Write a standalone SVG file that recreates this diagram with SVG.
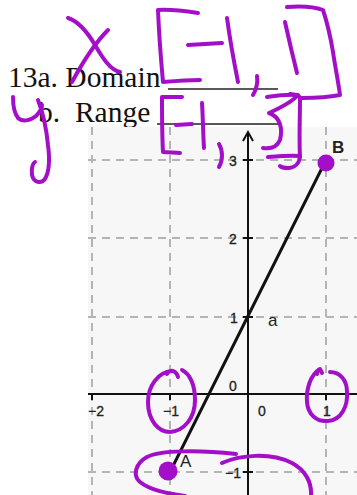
<svg xmlns="http://www.w3.org/2000/svg" width="357" height="495" viewBox="0 0 357 495">
<style>
.q{font-family:"Liberation Serif",serif;font-size:29.5px;fill:#111}
.ul{stroke:#222;stroke-width:1.4}
.grid{stroke:#b4b4b4;stroke-width:2;stroke-dasharray:8 6;fill:none}
.ax{stroke:#111;stroke-width:2;fill:none}
.lab{font-family:"Liberation Sans",Arial,sans-serif;font-size:14px;fill:#222;text-anchor:middle;stroke:#222;stroke-width:0.3}
.pt{font-family:"Liberation Sans",Arial,sans-serif;font-size:17px;fill:#222}
.ink{stroke:#a30fc8;stroke-width:4;fill:none;stroke-linecap:round;stroke-linejoin:round}
.dot{fill:#a30fc8}
</style>
<rect width="357" height="495" fill="#ffffff"/>
<g id="question">
<text class="q" x="8" y="87">13a. Domain</text>
<line class="ul" x1="168" y1="89" x2="278" y2="89"/>
<text class="q" x="38" y="122" xml:space="preserve">b.  Range</text>
<line class="ul" x1="157" y1="124" x2="278" y2="124"/>
</g>
<g id="graph">
<rect x="88" y="127" width="269" height="368" fill="#f7f7f7"/>
<line class="grid" x1="92" y1="127" x2="92" y2="495"/>
<line class="grid" x1="170" y1="127" x2="170" y2="495"/>
<line class="grid" x1="326" y1="127" x2="326" y2="495"/>
<line class="grid" x1="88" y1="160" x2="357" y2="160"/>
<line class="grid" x1="88" y1="238" x2="357" y2="238"/>
<line class="grid" x1="88" y1="317" x2="357" y2="317"/>
<line class="grid" x1="88" y1="472" x2="357" y2="472"/>
<line class="ax" x1="88" y1="394" x2="357" y2="394"/>
<line class="ax" x1="248" y1="133" x2="248" y2="495"/>
<path class="ax" d="M243,141 L248,132 L253,141" stroke-width="1.6"/>
<path class="ax" stroke-width="1.6" d="M243,160 H253 M243,238 H253 M243,317 H253 M243,472 H253 M92,394 V400 M170,394 V400 M326,394 V400"/>
<text class="lab" x="233" y="166">3</text>
<text class="lab" x="233" y="244">2</text>
<text class="lab" x="234" y="323">1</text>
<text class="lab" x="233" y="391">0</text>
<text class="lab" x="233" y="478">−1</text>
<text class="lab" x="96" y="416">−2</text>
<text class="lab" x="171" y="416">−1</text>
<text class="lab" x="262" y="416">0</text>
<text class="lab" x="327" y="416">1</text>
</g>
<g id="segment">
<line x1="170" y1="472" x2="326" y2="160" stroke="#111" stroke-width="3"/>
<text class="pt" x="268" y="326">a</text>
<text class="pt" x="332" y="153" font-weight="bold">B</text>
<text class="pt" x="180" y="467">A</text>
</g>
<g id="handwriting">
<path class="ink" d="M68,18 C80,22 88,33 95,45 C102,57 110,70 120,72"/>
<path class="ink" d="M108,30 C98,40 85,58 72,82"/>
<path class="ink" d="M13,97 C13,105 14,113 18,118 C22,122 30,121 36,116 C40,112 42,108 42,105"/>
<path class="ink" d="M38,100 C42,110 46,125 48,145 C50,160 49,172 45,179 C41,184 34,183 32,175 C31,168 33,163 35,162"/>
<path class="ink" d="M198,13 C185,11 170,9 158,10 C159,35 161,60 163,82 C175,81 188,80 200,80"/>
<path class="ink" d="M188,45 L222,43"/>
<path class="ink" d="M227,18 C230,40 234,62 238,82"/>
<path class="ink" d="M257,76 C258,83 256,90 253,95"/>
<path class="ink" d="M285,22 C289,40 293,57 297,73"/>
<path class="ink" d="M287,7 C300,6 315,7 323,10 C328,25 331,40 333,52 C335,66 338,80 340,95 C330,97 315,98 302,98"/>
<path class="ink" d="M182,97 L162,97 C162,115 162,135 163,152 C169,152 175,153 180,153"/>
<path class="ink" stroke-width="6" d="M176,125 L192,124"/>
<path class="ink" d="M202,103 C203,118 203,133 204,148"/>
<path class="ink" d="M219,144 C223,151 223,160 219,167"/>
<path class="ink" d="M267,97 C280,95 290,94 298,95 C292,102 280,108 269,113 C280,117 283,128 280,140 C277,147 270,149 263,148"/>
<path class="ink" d="M290,94 C296,95 300,96 300,98 C300,115 299,140 300,157 C299,164 294,168 288,168 C284,168 281,167 280,166"/>
<path class="ink" d="M268,157 C280,156 292,155 300,156"/>
<path class="ink" d="M167,374 C170,369 176,370 178,377 M172,371 C158,372 148,386 148,402 C148,420 158,432 170,432 C184,431 195,418 195,400 C195,385 190,374 182,370"/>
<path class="ink" d="M317,374 C318,369 320,367 322,373 M320,369 C310,375 306,390 307,402 C308,415 317,422 328,421 C342,420 348,405 347,392 C347,380 340,372 330,372"/>
<path class="ink" d="M236,454 C200,450 160,450 147,457 C136,463 132,475 140,482 C150,490 165,493 185,496"/>
<path class="ink" d="M222,463 C240,455 270,452 292,463 C305,470 312,482 311,496"/>
<circle class="dot" cx="168" cy="471" r="9.5"/>
<circle class="dot" cx="326" cy="163" r="8.5"/>
</g>
</svg>
